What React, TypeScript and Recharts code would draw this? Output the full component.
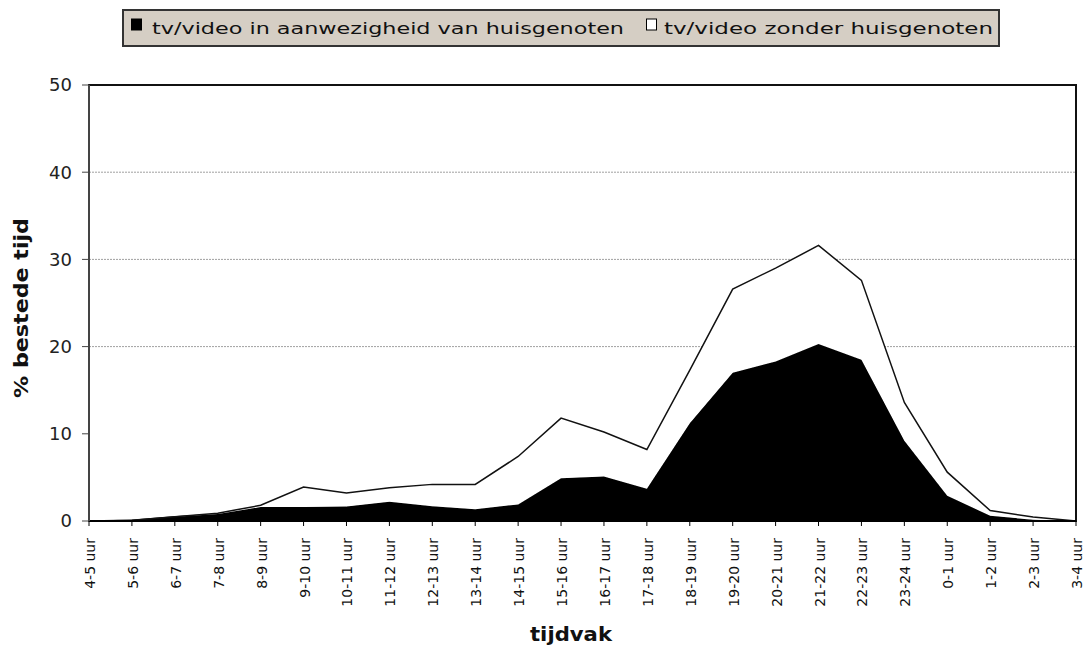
import React from "react";
import {
  AreaChart,
  Area,
  XAxis,
  YAxis,
  CartesianGrid,
  Legend,
  ReferenceArea,
} from "recharts";

const categories = [
  "4-5 uur", "5-6 uur", "6-7 uur", "7-8 uur", "8-9 uur", "9-10 uur",
  "10-11 uur", "11-12 uur", "12-13 uur", "13-14 uur", "14-15 uur", "15-16 uur",
  "16-17 uur", "17-18 uur", "18-19 uur", "19-20 uur", "20-21 uur", "21-22 uur",
  "22-23 uur", "23-24 uur", "0-1 uur", "1-2 uur", "2-3 uur", "3-4 uur",
];

// tv/video in aanwezigheid van huisgenoten
const metHuisgenoten = [
  0, 0.1, 0.5, 0.8, 1.6, 1.6, 1.65, 2.2, 1.7, 1.35, 1.9, 4.9,
  5.1, 3.7, 11.2, 17.0, 18.3, 20.3, 18.5, 9.2, 2.9, 0.6, 0.15, 0,
];

// tv/video zonder huisgenoten (stacked on top)
const zonderHuisgenoten = [
  0, 0, 0, 0.1, 0.2, 2.3, 1.55, 1.6, 2.5, 2.85, 5.5, 6.9,
  5.1, 4.5, 6.1, 9.6, 10.7, 11.3, 9.1, 4.4, 2.7, 0.6, 0.3, 0,
];

const yTicks = [0, 10, 20, 30, 40, 50];

const legendLabels = [
  "tv/video in aanwezigheid van huisgenoten",
  "tv/video zonder huisgenoten",
];

const data = categories.map((tijdvak, i) => ({
  tijdvak,
  met: metHuisgenoten[i],
  zonder: zonderHuisgenoten[i],
}));

const FONT = "DejaVu Sans";

function XTick({ x, y, payload }: any) {
  return (
    <text
      transform={`translate(${x + 6},${y + 10}) rotate(-90)`}
      textAnchor="end"
      fontSize={14}
      fontFamily={FONT}
      fill="#111"
    >
      {payload.value}
    </text>
  );
}

function LegendBox() {
  return (
    <svg width={880} height={40} style={{ display: "block" }}>
      <rect x={1} y={1} width={876} height={36} fill="#d5cec4" stroke="#333" strokeWidth={2} />
      <rect x={9} y={9.5} width={11} height={12} fill="#000" />
      <text x={30} y={24.5} fontSize={16} fontFamily={FONT} fill="#111" textLength={472} lengthAdjust="spacingAndGlyphs">
        {legendLabels[0]}
      </text>
      <rect x={524.5} y={10} width={10} height={11} fill="#fff" stroke="#000" strokeWidth={1} />
      <text x={542} y={24.5} fontSize={16} fontFamily={FONT} fill="#111" textLength={329} lengthAdjust="spacingAndGlyphs">
        {legendLabels[1]}
      </text>
    </svg>
  );
}

export default function App() {
  return (
    <div style={{ position: "absolute", left: 0, top: 0, width: 1086, height: 652, background: "#fff" }}>
      <AreaChart
        width={1086}
        height={652}
        data={data}
        margin={{ top: 85, right: 10, bottom: 31, left: 29 }}
      >
        <CartesianGrid
          vertical={false}
          horizontalValues={[20, 30, 40]}
          stroke="#a0a0a0"
          strokeDasharray="2 1"
        />
        <XAxis
          dataKey="tijdvak"
          height={100}
          interval={0}
          tick={<XTick />}
          tickSize={5}
          axisLine={{ stroke: "#000", strokeWidth: 2 }}
          tickLine={{ stroke: "#000" }}
          label={() => (
            <text
              x={571}
              y={641}
              textAnchor="middle"
              fontSize={19}
              fontWeight="bold"
              fontFamily={FONT}
              fill="#111"
              textLength={82}
              lengthAdjust="spacingAndGlyphs"
            >
              tijdvak
            </text>
          )}
        />
        <YAxis
          width={60}
          domain={[0, 50]}
          ticks={yTicks}
          interval={0}
          tickSize={7}
          tickMargin={10}
          tick={{ fontSize: 18, fontFamily: FONT, fill: "#222" }}
          axisLine={{ stroke: "#444", strokeWidth: 2 }}
          tickLine={{ stroke: "#444" }}
          label={() => (
            <text
              transform="translate(28,308) rotate(-90)"
              textAnchor="middle"
              fontSize={19}
              fontWeight="bold"
              fontFamily={FONT}
              fill="#111"
              textLength={180}
              lengthAdjust="spacingAndGlyphs"
            >
              % bestede tijd
            </text>
          )}
        />
        <Area
          type="linear"
          dataKey="met"
          name={legendLabels[0]}
          stackId="tv"
          fill="#000"
          fillOpacity={1}
          stroke="#000"
          strokeWidth={1}
          dot={false}
          activeDot={false}
          isAnimationActive={false}
        />
        <Area
          type="linear"
          dataKey="zonder"
          name={legendLabels[1]}
          stackId="tv"
          fill="#fff"
          fillOpacity={1}
          stroke="#111"
          strokeWidth={1.5}
          dot={false}
          activeDot={false}
          isAnimationActive={false}
        />
        <ReferenceArea
          x1={categories[0]}
          x2={categories[categories.length - 1]}
          y1={0}
          y2={50}
          fill="none"
          fillOpacity={0}
          stroke="#111"
          strokeWidth={2}
        />
        <Legend
          verticalAlign="middle"
          align="center"
          layout="horizontal"
          wrapperStyle={{ top: 9, left: 122, width: 880, height: 40 }}
          content={() => <LegendBox />}
        />
      </AreaChart>
    </div>
  );
}
